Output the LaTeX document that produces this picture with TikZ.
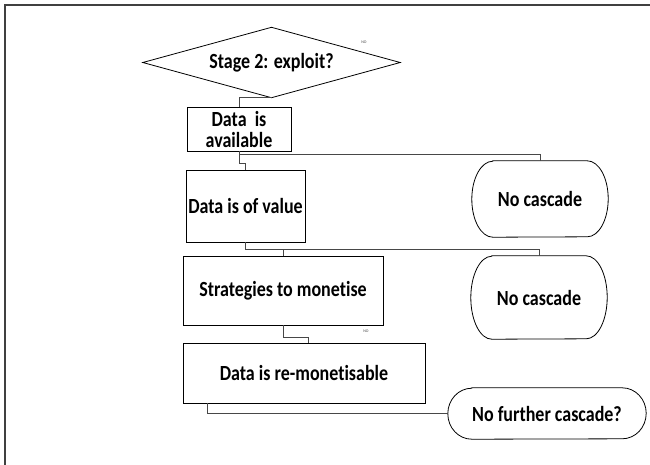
\documentclass[tikz,border=0pt]{standalone}
\usepackage{graphicx}
\usepackage{fontspec}
\setmainfont{Carlito}[Ligatures=NoCommon]
\usetikzlibrary{calc}
\newcommand\tall[1]{\scalebox{1}[1.2]{#1}}
\tikzset{
  lbl/.style={font=\bfseries\fontsize{18}{22}\selectfont, align=center, inner sep=0pt},
  procbox/.style={lbl, draw=black, line width=0.8pt, rectangle},
  termbox/.style={lbl, rectangle, draw=none},
  conn/.style={draw=black!72, line width=1pt},
  frameline/.style={draw=black!75, line width=2pt},
  tiny/.style={font=\fontsize{4}{4}\selectfont, text=black!70, inner sep=0pt},
}
\newcommand\termdraw[3]{%
  \draw[line width=0.8pt] ($(#1.north west)+(#2,0)$) -- ($(#1.north east)+(-#2,0)$)
    arc[start angle=90,end angle=-90,x radius=#2,y radius=#3]
    -- ($(#1.south west)+(#2,0)$)
    arc[start angle=270,end angle=90,x radius=#2,y radius=#3] -- cycle;}
\begin{document}
\begin{tikzpicture}[x=1pt,y=-1pt]
\useasboundingbox (0,0) rectangle (650,464);
\fill[white] (0,0) rectangle (650,464);
\draw[frameline] (651,5) -- (5,5) -- (5,465);

% decision
\node[termbox, minimum width=257pt, minimum height=70pt] (dia) at (271.5,62.5) {\tall{Stage 2: exploit?}};
\draw[line width=0.8pt] (dia.west) -- (dia.north) -- (dia.east) -- (dia.south) -- cycle;
\node[tiny] (no1) at (364,42) {NO};

% process boxes
\node[procbox, minimum width=104pt, minimum height=44pt] (b1) at (239,129) {\tall{Data\ \ is}\\[-1pt]\tall{available}};
\node[procbox, minimum width=119pt, minimum height=72pt] (b2) at (245.5,206) {\tall{Data is of value}};
\node[procbox, minimum width=200pt, minimum height=69pt] (b3) at (283,290.5) {\tall{Strategies to monetise}};
\node[procbox, minimum width=242pt, minimum height=60pt] (b4) at (304,373) {\tall{Data is re-monetisable}};
\node[tiny] (no2) at (366,331) {NO};

% terminators
\node[termbox, minimum width=136pt, minimum height=76pt] (nc1) at (540,199) {\tall{No cascade}};
\termdraw{nc1}{21pt}{38pt}
\node[termbox, minimum width=136pt, minimum height=83pt] (nc2) at (539,297.5) {\tall{No cascade}};
\termdraw{nc2}{21pt}{41.5pt}
\node[termbox, minimum width=198pt, minimum height=51pt] (nc3) at (547,413.5) {\tall{No further cascade?}};
\termdraw{nc3}{24pt}{25.5pt}

% connectors
\coordinate (j1) at (239,154);
\coordinate (j1a) at (239,163);
\coordinate (j2) at (245.5,249);
\coordinate (j3a) at (283,337);
\coordinate (j3b) at (308,337);
\coordinate (j4) at (207,403);

\draw[conn] (dia.south) -| (b1.north);
\draw[conn] (b1.south) -- (j1) -| (nc1.north);
\draw[conn] (j1) -- (j1a) -| (b2.north);
\draw[conn] (b2.south) -- (j2) -| (nc2.north);
\draw[conn] (b3.north) -- (b3.north |- j2);
\draw[conn] (b3.south) -- (j3a) -- (j3b) -- (j3b |- b4.north);
\draw[conn] (j4) |- (nc3.west);
\end{tikzpicture}
\end{document}
